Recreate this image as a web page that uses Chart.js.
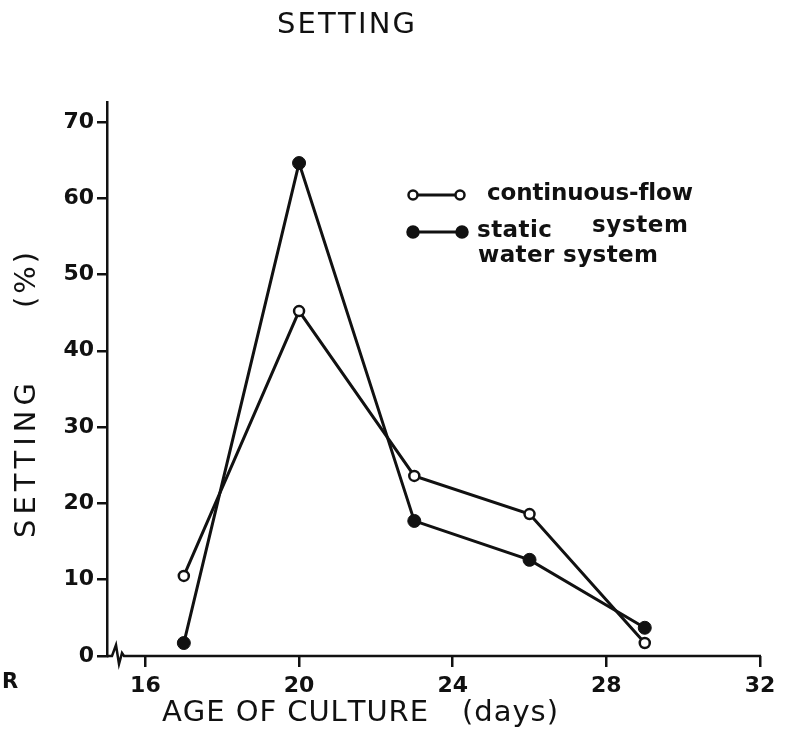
<!DOCTYPE html>
<html>
<head>
<meta charset="utf-8">
<script src="https://cdn.jsdelivr.net/npm/chart.js@4.4.1/dist/chart.umd.min.js"></script>
<style>
  html, body { margin: 0; padding: 0; background: #fff; }
  #wrap { width: 790px; height: 734px; position: relative; }
</style>
</head>
<body>
<div id="wrap"><canvas id="settingChart"></canvas></div>
<script>
// age of culture (days) and setting (%) for the two systems
const days = [17, 20, 23, 26, 29];
const continuousFlow = [10.5, 45.2, 23.6, 18.6, 1.7];
const staticWater = [1.7, 64.6, 17.7, 12.6, 3.7];
const xTicks = [16, 20, 24, 28, 32];
const yTicks = [0, 10, 20, 30, 40, 50, 60, 70];

const INK = '#111';
const LETTER = '"DejaVu Sans", sans-serif';

// draw text left-aligned from x, spread out so it covers the given width
function spreadText(ctx, text, x, y, width) {
    const chars = text.split('');
    const widths = chars.map(c => ctx.measureText(c).width);
    const total = widths.reduce((a, b) => a + b, 0);
    const gap = chars.length > 1 ? (width - total) / (chars.length - 1) : 0;
    let cx = x;
    chars.forEach((c, i) => {
        ctx.fillText(c, cx, y);
        cx += widths[i] + gap;
    });
}

function circle(ctx, x, y, r, filled) {
    ctx.beginPath();
    ctx.arc(x, y, r, 0, Math.PI * 2);
    ctx.fillStyle = filled ? INK : '#fff';
    ctx.fill();
    ctx.lineWidth = 2.5;
    ctx.strokeStyle = INK;
    ctx.stroke();
}

const lettering = {
    id: 'lettering',
    afterDraw(chart) {
        const ctx = chart.ctx;
        const area = chart.chartArea;
        const xs = chart.scales.x;
        ctx.save();

        // x axis with a break next to the origin
        const x0 = area.left, yb = area.bottom;
        ctx.strokeStyle = INK;
        ctx.lineWidth = 2.5;
        ctx.lineJoin = 'miter';
        ctx.beginPath();
        ctx.moveTo(x0, yb);
        ctx.lineTo(x0 + 5, yb);
        ctx.lineTo(x0 + 9, yb - 11);
        ctx.lineTo(x0 + 12, yb + 8);
        ctx.lineTo(x0 + 15, yb - 3);
        ctx.lineTo(x0 + 17, yb);
        ctx.lineTo(xs.getPixelForValue(32) + 1, yb);
        ctx.stroke();

        ctx.fillStyle = INK;
        ctx.textBaseline = 'middle';
        ctx.textAlign = 'left';

        // heading
        ctx.font = '29px ' + LETTER;
        spreadText(ctx, 'SETTING', 277, 25, 138);

        // x axis title
        spreadText(ctx, 'AGE OF CULTURE', 162, 713, 266);
        spreadText(ctx, '(days)', 462, 713, 96);

        // y axis title
        ctx.save();
        ctx.translate(27, 0);
        ctx.rotate(-Math.PI / 2);
        spreadText(ctx, 'SETTING', -538, 0, 155);
        spreadText(ctx, '(%)', -308, 0, 56);
        ctx.restore();

        ctx.font = 'bold 21px ' + LETTER;
        ctx.fillText('R', 2, 683);

        // legend
        ctx.lineWidth = 3;
        ctx.beginPath();
        ctx.moveTo(413, 195); ctx.lineTo(460, 195);
        ctx.moveTo(413, 232); ctx.lineTo(462, 232);
        ctx.stroke();
        circle(ctx, 413, 195, 4.5, false);
        circle(ctx, 460, 195, 4.5, false);
        circle(ctx, 413, 232, 5.5, true);
        circle(ctx, 462, 232, 5.5, true);

        ctx.fillStyle = INK;
        ctx.font = 'bold 23px ' + LETTER;
        spreadText(ctx, 'continuous-flow', 487, 194, 206);
        spreadText(ctx, 'system', 592, 226, 96);
        spreadText(ctx, 'static', 477, 231, 75);
        spreadText(ctx, 'water system', 478, 256, 180);

        ctx.restore();
    }
};

const tickFont = { family: LETTER, size: 22, weight: 'bold' };

new Chart(document.getElementById('settingChart'), {
    type: 'line',
    data: {
        datasets: [
            {
                label: 'continuous-flow system',
                data: days.map((d, i) => ({ x: d, y: continuousFlow[i] })),
                borderColor: INK,
                borderWidth: 3,
                pointRadius: 5,
                pointBorderWidth: 2.5,
                pointBackgroundColor: '#fff',
                pointBorderColor: INK,
                tension: 0
            },
            {
                label: 'static water system',
                data: days.map((d, i) => ({ x: d, y: staticWater[i] })),
                borderColor: INK,
                borderWidth: 3,
                pointRadius: 6.5,
                pointBorderWidth: 1,
                pointBackgroundColor: INK,
                pointBorderColor: INK,
                tension: 0
            }
        ]
    },
    options: {
        responsive: true,
        maintainAspectRatio: false,
        animation: false,
        layout: { padding: { top: 102, right: 30, left: 0, bottom: 0 } },
        plugins: {
            legend: { display: false },
            tooltip: { enabled: false }
        },
        scales: {
            x: {
                type: 'linear',
                min: 15,
                max: 32,
                afterBuildTicks: s => { s.ticks = xTicks.map(v => ({ value: v })); },
                afterFit: s => { s.height = 78; },
                border: { display: false },
                grid: {
                    drawOnChartArea: false,
                    drawTicks: true,
                    tickLength: 11,
                    color: INK,
                    lineWidth: 2.5
                },
                ticks: { color: INK, font: tickFont, padding: 6, maxRotation: 0, autoSkip: false }
            },
            y: {
                min: 0,
                max: 72.6,
                afterBuildTicks: s => { s.ticks = yTicks.map(v => ({ value: v })); },
                afterFit: s => { s.width = 107; },
                border: { display: true, color: INK, width: 2.5 },
                grid: {
                    drawOnChartArea: false,
                    drawTicks: true,
                    tickLength: 10,
                    color: INK,
                    lineWidth: 2.5
                },
                ticks: { color: INK, font: tickFont, padding: 3, autoSkip: false }
            }
        }
    },
    plugins: [lettering]
});
</script>
</body>
</html>
